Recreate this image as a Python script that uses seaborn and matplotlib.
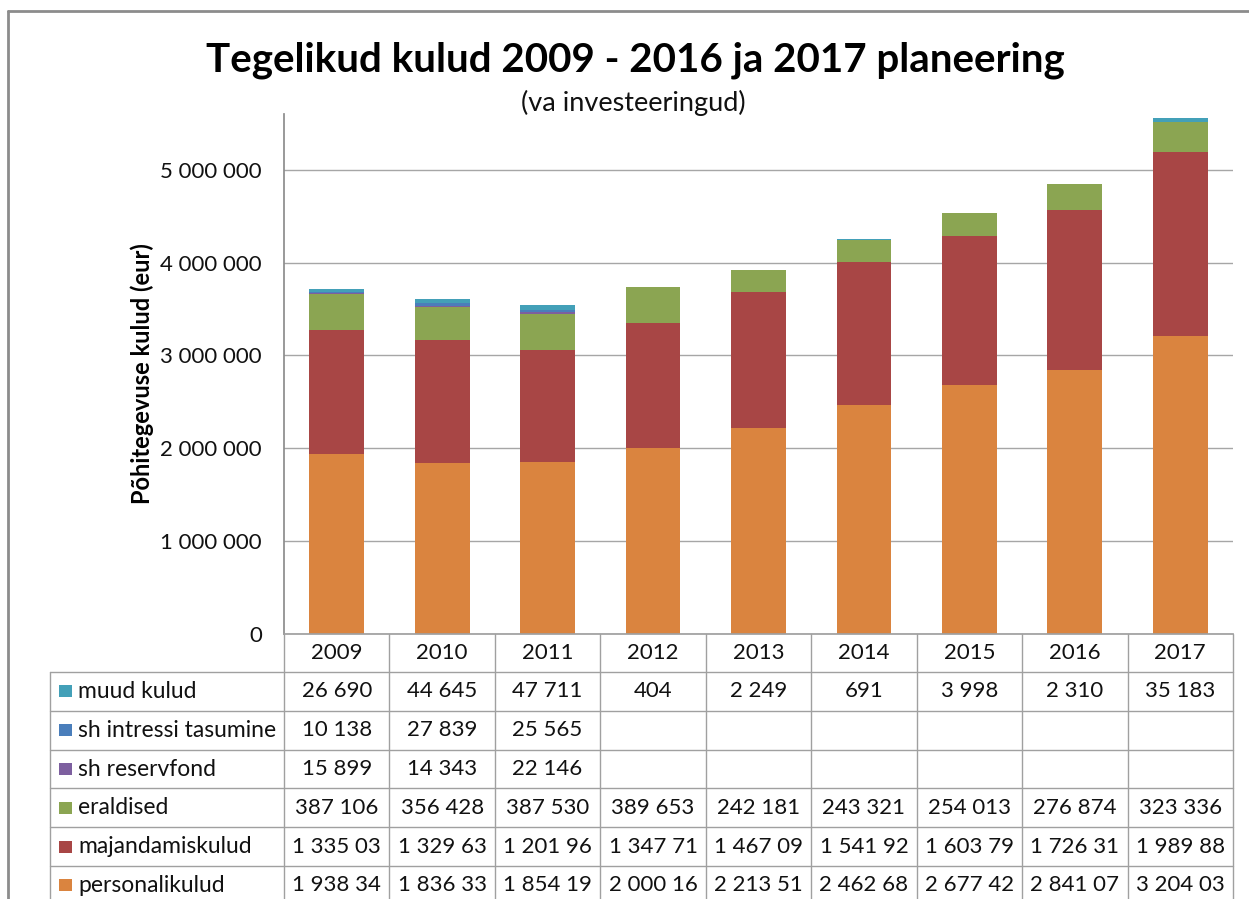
import numpy as np
import pandas as pd
import matplotlib
matplotlib.use('Agg')
import matplotlib.pyplot as plt
import matplotlib.transforms as mtransforms
from matplotlib.lines import Line2D
from matplotlib.patches import Rectangle
from matplotlib.ticker import FuncFormatter
import seaborn as sns

# data (last digit of the 7-digit values is cut off in the source table)
years = ['2009', '2010', '2011', '2012', '2013', '2014', '2015', '2016', '2017']
personalikulud = [1938340, 1836330, 1854190, 2000160, 2213510, 2462680, 2677420, 2841070, 3204030]
majandamiskulud = [1335030, 1329630, 1201960, 1347710, 1467090, 1541920, 1603790, 1726310, 1989880]
eraldised = [387106, 356428, 387530, 389653, 242181, 243321, 254013, 276874, 323336]
sh_reservfond = [15899, 14343, 22146, np.nan, np.nan, np.nan, np.nan, np.nan, np.nan]
sh_intressi_tasumine = [10138, 27839, 25565, np.nan, np.nan, np.nan, np.nan, np.nan, np.nan]
muud_kulud = [26690, 44645, 47711, 404, 2249, 691, 3998, 2310, 35183]

# stacking order bottom -> top
series_names = ['personalikulud', 'majandamiskulud', 'eraldised',
                'sh reservfond', 'sh intressi tasumine', 'muud kulud']
series_values = [personalikulud, majandamiskulud, eraldised,
                 sh_reservfond, sh_intressi_tasumine, muud_kulud]
series_colors = ['#DA843F', '#A84645', '#8BA552', '#7D5F9F', '#4A7EBB', '#43A0B8']

df = pd.DataFrame(dict(zip(series_names, series_values)), index=years)
cum = df.fillna(0).cumsum(axis=1)

sns.set_theme(style='white')
plt.rcParams['font.family'] = ['Lato', 'DejaVu Sans']

W_PX, H_PX = 1249, 899
fig = plt.figure(figsize=(W_PX / 100, H_PX / 100), dpi=100)


def fx(px):
    return px / W_PX


def fy(py):
    return 1 - py / H_PX


ax_left, ax_right, ax_top, ax_bottom = 284, 1233, 114, 634
ax = fig.add_axes([fx(ax_left), fy(ax_bottom), fx(ax_right - ax_left),
                   (ax_bottom - ax_top) / H_PX])

# draw cumulative totals from the top series down so each layer overlays the next
for name, color in zip(series_names[::-1], series_colors[::-1]):
    sns.barplot(x=years, y=cum[name].values, color=color, saturation=1,
                width=0.52, linewidth=0, errorbar=None, ax=ax)

txt_col = '#111111'
ax.set_xlim(-0.5, len(years) - 0.5)
ax.set_ylim(0, 5600000)
ax.set_yticks(np.arange(0, 5000001, 1000000))
ax.yaxis.set_major_formatter(FuncFormatter(lambda v, _: f'{int(v):,}'.replace(',', ' ')))
ax.tick_params(axis='y', length=0, pad=16, labelsize=16, colors=txt_col)
ax.tick_params(axis='x', length=0, labelbottom=False)
ax.yaxis.grid(True, color='#A6A6A6', linewidth=1)
ax.set_axisbelow(True)
for s in ['top', 'right']:
    ax.spines[s].set_visible(False)
ax.spines['left'].set_color('#8C8C8C')
ax.spines['bottom'].set_color('#A0A0A0')
ax.set_xlabel('')
ax.set_ylabel('Põhitegevuse kulud (eur)', fontsize=17, fontweight='bold', color='black')
ax.yaxis.set_label_coords((154 - ax_left) / (ax_right - ax_left), 0.5)

fig.text(fx(635), fy(60), 'Tegelikud kulud 2009 - 2016 ja 2017 planeering',
         ha='center', va='center', fontsize=29, fontweight='bold', color='black')
fig.text(fx(633), fy(103), '(va investeeringud)', ha='center', va='center',
         fontsize=19.5, color=txt_col)

# data table under the chart
trans = mtransforms.blended_transform_factory(ax.transData, fig.transFigure)
grid_col = '#A0A0A0'
header_top, header_bot = 634, 672
row_h = 38.8
table_rows = series_names[::-1]
row_edges = [header_bot + i * row_h for i in range(len(table_rows) + 1)]
label_left = 50

# vertical lines between the year columns
for i in range(len(years) + 1):
    fig.add_artist(Line2D([i - 0.5, i - 0.5], [fy(header_top), fy(H_PX + 10)],
                          transform=trans, color=grid_col, lw=1))
fig.add_artist(Line2D([fx(label_left)] * 2, [fy(header_bot), fy(H_PX + 10)],
                      transform=fig.transFigure, color=grid_col, lw=1))
# horizontal lines
for y in row_edges:
    fig.add_artist(Line2D([fx(label_left), fx(ax_right)], [fy(y), fy(y)],
                          transform=fig.transFigure, color=grid_col, lw=1))

for i, yr in enumerate(years):
    fig.text(i, fy((header_top + header_bot) / 2), yr, transform=trans,
             ha='center', va='center', fontsize=16, color=txt_col)


def fmt_cell(v):
    if pd.isna(v):
        return ''
    return f'{int(v):,}'.replace(',', ' ')[:8]


color_map = dict(zip(series_names, series_colors))
for r, name in enumerate(table_rows):
    yc = fy(row_edges[r] + row_h / 2)
    fig.add_artist(Rectangle((fx(59), yc - 6 / H_PX), 13 / W_PX, 12 / H_PX,
                             transform=fig.transFigure, color=color_map[name], lw=0))
    fig.text(fx(78), yc, name, ha='left', va='center', fontsize=16.5, color=txt_col)
    for i, v in enumerate(df[name].values):
        fig.text(i, yc, fmt_cell(v), transform=trans, ha='center', va='center',
                 fontsize=16, color=txt_col)

# outer chart frame
fig.add_artist(Line2D([fx(8), fx(8)], [fy(11), 0], transform=fig.transFigure,
                      color='#8C8C8C', lw=2))
fig.add_artist(Line2D([fx(8), 1], [fy(11), fy(11)], transform=fig.transFigure,
                      color='#8C8C8C', lw=2))

fig.savefig('out.png', dpi=100)
